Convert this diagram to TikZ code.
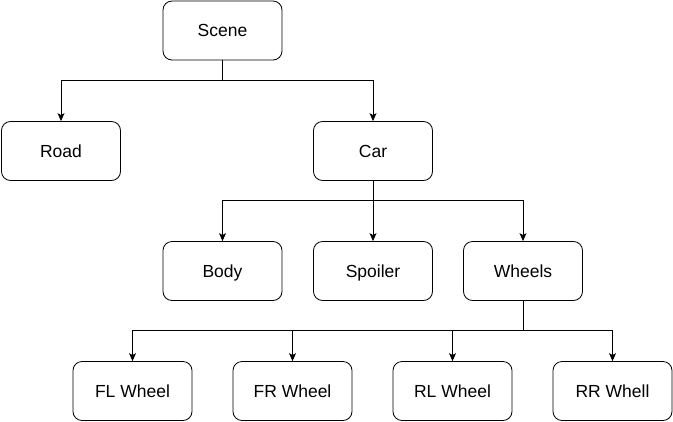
\documentclass[tikz,border=0pt]{standalone}
\usepackage{fontspec}
\setmainfont{Liberation Sans}
\usetikzlibrary{arrows.meta}

\begin{document}
\begin{tikzpicture}[x=1pt,y=-1pt,
	box/.style={draw, rounded corners=9pt, line width=0.8pt, minimum width=119pt, minimum height=59pt, font=\fontsize{17.5}{20}\selectfont, inner sep=0pt, text height=12.4pt, text depth=0pt},
	link/.style={line width=0.8pt, -{Stealth[length=8pt,width=7pt,inset=2pt]}}]
	\path[use as bounding box] (0,0) rectangle (673,421);
	% top level
	\node[box] (scene) at (222.5,30.5) {Scene};
	\node[box] (road) at (61,151) {Road};
	\node[box] (car) at (373,151) {Car};
	% parts of the car
	\node[box] (body) at (222.5,271) {Body};
	\node[box] (spoiler) at (373,271) {Spoiler};
	\node[box] (wheels) at (523,271) {Wheels};
	% wheels
	\node[box] (fl) at (132.5,391) {FL Wheel};
	\node[box] (fr) at (292.5,391) {FR Wheel};
	\node[box] (rl) at (452.5,391) {RL Wheel};
	\node[box] (rr) at (612.5,391) {RR Whell};

	\coordinate (j1) at (222.5,80);
	\coordinate (j2) at (373,200);
	\coordinate (j3) at (523,330);
	\draw[line width=0.8pt] (scene) -- (j1);
	\draw[link] (j1) -| (road);
	\draw[link] (j1) -| (car);
	\draw[line width=0.8pt] (car) -- (j2);
	\draw[link] (j2) -| (body);
	\draw[link] (j2) -- (spoiler);
	\draw[link] (j2) -| (wheels);
	\draw[line width=0.8pt] (wheels) -- (j3);
	\draw[link] (j3) -| (fl);
	\draw[link] (j3) -| (fr);
	\draw[link] (j3) -| (rl);
	\draw[link] (j3) -| (rr);
\end{tikzpicture}
\end{document}
